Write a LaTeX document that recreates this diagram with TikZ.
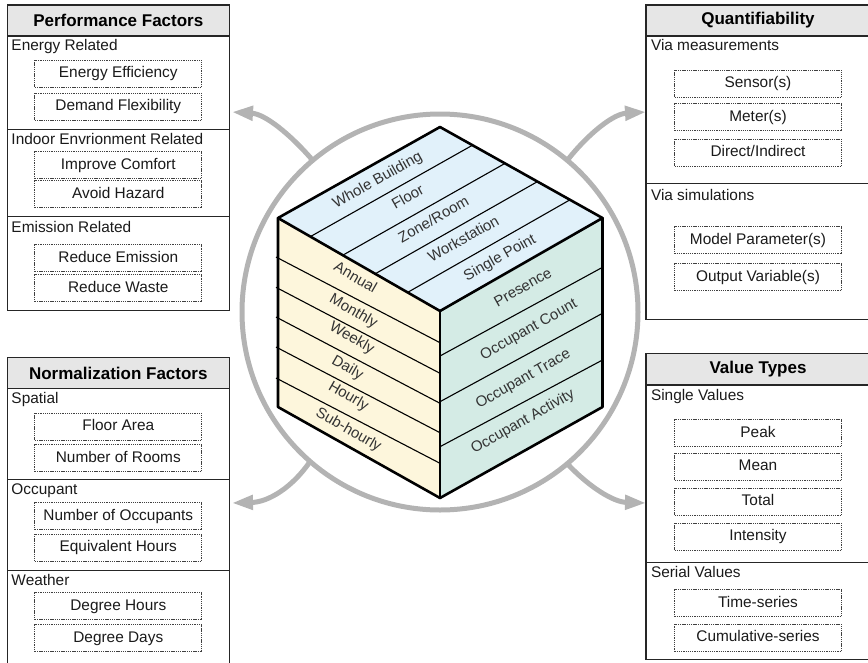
\documentclass[tikz,border=0pt]{standalone}
\usepackage{fontspec}
\setmainfont{Liberation Sans}
\usetikzlibrary{arrows.meta,calc}
\definecolor{ringgray}{HTML}{B3B3B3}
\definecolor{hdrgray}{HTML}{E6E6E6}
\definecolor{topblue}{HTML}{E1F1FA}
\definecolor{leftyel}{HTML}{FDF6DC}
\definecolor{rightgrn}{HTML}{D4EBE5}
\definecolor{txt}{HTML}{1A1A1A}
\definecolor{cubetxt}{HTML}{333333}
\newcommand\myBody{\fontsize{15.4pt}{18pt}\selectfont}
\newcommand\myHead{\fontsize{17pt}{20pt}\selectfont\bfseries}
\newcommand\myCube{\fontsize{15pt}{18pt}\selectfont}
\begin{document}
\begin{tikzpicture}[x=1pt,y=1pt,
 every node/.style={inner sep=0pt, outer sep=0pt},
 bigbox/.style={draw=black!85, line width=1.2pt, anchor=north west, minimum width=222pt},
 hdr/.style={draw=black!85, line width=1.2pt, fill=hdrgray, anchor=north west, minimum width=222pt, minimum height=31pt, font=\myHead, text=black},
 divl/.style={draw=black!85, line width=1.2pt},
 sec/.style={anchor=west, font=\myBody, text=txt, text height=11pt, text depth=3pt},
 dbox/.style={draw=black!75, line width=0.7pt, dash pattern=on 1.3pt off 0.9pt, minimum width=167pt, minimum height=27pt, font=\myBody, text=txt, text height=11pt, text depth=3pt},
 cl/.style={font=\myCube, text=cubetxt, text height=10.7pt, text depth=3pt},
 flow/.style={draw=ringgray, line width=5pt, -{Triangle[length=21pt,width=14pt]}},
 edge/.style={line width=2.6pt, line join=round, line cap=round},
 band/.style={line width=1.1pt},
 ]
\useasboundingbox (0,0) rectangle (868,-662);
\clip (0,0) rectangle (868,-662);

% ring and arrows
\node[draw=ringgray, line width=5pt, circle, minimum size=396pt] (ring) at (440,-312) {};
\coordinate (tlT) at (232,-112);
\coordinate (trT) at (646,-112);
\coordinate (blT) at (232,-503);
\coordinate (brT) at (646,-503);
\draw[flow] (ring.130.6) .. controls (290,-134) and (265,-114) .. (tlT);
\draw[flow] (ring.50.7) .. controls (588,-134) and (613,-114) .. (trT);
\draw[flow] (ring.229.6) .. controls (292,-488) and (268,-502) .. (blT);
\draw[flow] (ring.310.8) .. controls (590,-488) and (614,-502) .. (brT);

% cube
\coordinate (T) at (440,-127);
\coordinate (L) at (278,-218);
\coordinate (R) at (602.5,-218);
\coordinate (F) at (440,-311);
\coordinate (BL) at (278,-407);
\coordinate (BR) at (602.5,-407);
\coordinate (B) at (440,-498);
\fill[topblue] (T)--(R)--(F)--(L)--cycle;
\fill[leftyel] (L)--(F)--(B)--(BL)--cycle;
\fill[rightgrn] (F)--(R)--(BR)--(B)--cycle;
\foreach \k in {1,...,4}
  \draw[band] ($(L)!\k/5!(F)$) -- ($(T)!\k/5!(R)$);
\foreach \a/\b in {257/342.7, 287.3/373.3, 317/403.3, 347/432.7, 378/463.3}
  \draw[band] (276,-\a) -- (440,-\b);
\foreach \a/\b in {356/267.3, 401.7/313.3, 446.7/360}
  \draw[band] (440,-\a) -- (602.5,-\b);
\draw[edge] (L)--(T)--(R)--(BR)--(B)--(BL)--cycle;
\draw[edge] (L)--(F)--(R);
\draw[edge] (F)--(B);

\node[cl, rotate=29.5] (wb) at (377.7,-180.7) {Whole Building};
\node[cl, rotate=29.5] (fl) at (408.3,-197.8) {Floor};
\node[cl, rotate=29.5] (zr) at (434,-220.5) {Zone/Room};
\node[cl, rotate=29.5] (ws) at (464,-240) {Workstation};
\node[cl, rotate=29.5] (sp) at (500,-258.3) {Single Point};

\node[cl, rotate=-30] (an) at (355,-278.3) {Annual};
\node[cl, rotate=-30] (mo) at (353.3,-311.7) {Monthly};
\node[cl, rotate=-30] (we) at (351.7,-338.3) {Weekly};
\node[cl, rotate=-30] (da) at (347.3,-368.3) {Daily};
\node[cl, rotate=-30] (ho) at (348.3,-396.7) {Hourly};
\node[cl, rotate=-30] (sh) at (348.3,-430) {Sub-hourly};

\node[cl, rotate=29.5] (pr) at (523.3,-288.3) {Presence};
\node[cl, rotate=29.5] (oc) at (529,-330) {Occupant Count};
\node[cl, rotate=29.5] (ot) at (523.3,-379.5) {Occupant Trace};
\node[cl, rotate=29.5] (oa) at (523,-422) {Occupant Activity};

% Performance Factors
\node[bigbox, minimum height=305.7pt] (pf) at (7.3,-5) {};
\node[hdr] (pfh) at (7.3,-5) {Performance Factors};
\draw[divl] (pf.west |- 0,-129.3) -- (pf.east |- 0,-129.3);
\draw[divl] (pf.west |- 0,-216.7) -- (pf.east |- 0,-216.7);
\node[sec] (pf1) at (11.5,-46.7) {Energy Related};
\node[dbox] (ee) at (118.3,-73.7) {Energy Efficiency};
\node[dbox] (df) at (118.3,-106.7) {Demand Flexibility};
\node[sec] (pf2) at (11.5,-140) {Indoor Envrionment Related};
\node[dbox] (ic) at (118.3,-165) {Improve Comfort};
\node[dbox] (ah) at (118.3,-194.2) {Avoid Hazard};
\node[sec] (pf3) at (11.5,-228.3) {Emission Related};
\node[dbox] (re) at (118.3,-258.3) {Reduce Emission};
\node[dbox] (rw) at (118.3,-288.3) {Reduce Waste};

% Normalization Factors
\node[bigbox, minimum height=330pt] (nf) at (7.3,-357.7) {};
\node[hdr] (nfh) at (7.3,-357.7) {Normalization Factors};
\draw[divl] (nf.west |- 0,-479.3) -- (nf.east |- 0,-479.3);
\draw[divl] (nf.west |- 0,-570.7) -- (nf.east |- 0,-570.7);
\node[sec] (nf1) at (11.5,-399) {Spatial};
\node[dbox] (fa) at (118.3,-426.7) {Floor Area};
\node[dbox] (nr) at (118.3,-458) {Number of Rooms};
\node[sec] (nf2) at (11.5,-490.7) {Occupant};
\node[dbox] (no) at (118.3,-516.3) {Number of Occupants};
\node[dbox] (eh) at (118.3,-547.5) {Equivalent Hours};
\node[sec] (nf3) at (11.5,-581.7) {Weather};
\node[dbox] (dh) at (118.3,-606.3) {Degree Hours};
\node[dbox] (dd) at (118.3,-638.2) {Degree Days};

% Quantifiability
\node[bigbox, minimum width=224pt, minimum height=314.3pt] (qf) at (646,-5) {};
\node[hdr, minimum width=224pt] (qfh) at (646,-5) {Quantifiability};
\draw[divl] (qf.west |- 0,-183.3) -- (qf.east |- 0,-183.3);
\node[sec] (qf1) at (651,-46.7) {Via measurements};
\node[dbox] (se) at (758,-83.7) {Sensor(s)};
\node[dbox] (me) at (758,-117.3) {Meter(s)};
\node[dbox] (di) at (758,-152.7) {Direct/Indirect};
\node[sec] (qf2) at (651,-196.7) {Via simulations};
\node[dbox] (mp) at (758,-240.3) {Model Parameter(s)};
\node[dbox] (ov) at (758,-277) {Output Variable(s)};

% Value Types
\node[bigbox, minimum width=224pt, minimum height=306pt] (vt) at (646,-353.3) {};
\node[hdr, minimum width=224pt, minimum height=31.7pt] (vth) at (646,-353.3) {Value Types};
\draw[divl] (vt.west |- 0,-562.7) -- (vt.east |- 0,-562.7);
\node[sec] (vt1) at (651,-396) {Single Values};
\node[dbox] (pk) at (758,-433) {Peak};
\node[dbox] (mn) at (758,-466.7) {Mean};
\node[dbox] (tt) at (758,-501.7) {Total};
\node[dbox] (in) at (758,-536.7) {Intensity};
\node[sec] (vt2) at (651,-573.3) {Serial Values};
\node[dbox] (ts) at (758,-603) {Time-series};
\node[dbox] (cs) at (758,-637.8) {Cumulative-series};
\end{tikzpicture}
\end{document}
